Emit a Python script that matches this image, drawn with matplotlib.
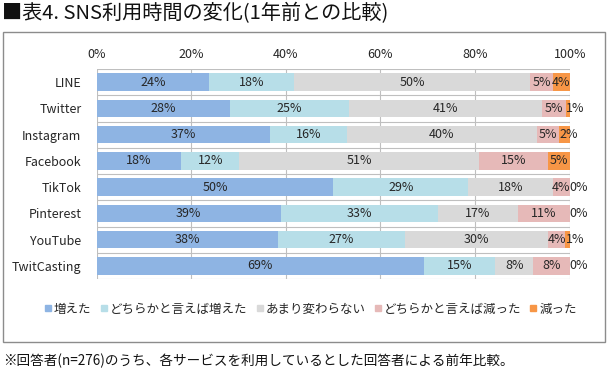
import matplotlib
matplotlib.use("Agg")
import matplotlib.pyplot as plt
from matplotlib.patches import Rectangle
from matplotlib.lines import Line2D
import numpy as np

plt.rcParams['font.family'] = ['Noto Sans CJK JP', 'DejaVu Sans']

title = "■表4. SNS利用時間の変化(1年前との比較)"
footnote = "※回答者(n=276)のうち、各サービスを利用しているとした回答者による前年比較。"

categories = ["LINE", "Twitter", "Instagram", "Facebook", "TikTok",
              "Pinterest", "YouTube", "TwitCasting"]
series_names = ["増えた", "どちらかと言えば増えた", "あまり変わらない",
                "どちらかと言えば減った", "減った"]
increased      = [23.7, 28.1, 36.6, 17.9, 50.0, 38.9, 38.3, 69.2]
some_increased = [18.0, 25.3, 16.4, 12.2, 28.6, 33.3, 26.9, 15.1]
unchanged      = [50.0, 40.7, 40.0, 50.7, 17.8, 16.8, 30.3, 8.0]
some_decreased = [4.7, 5.2, 4.8, 14.6, 3.6, 11.0, 3.6, 7.7]
decreased      = [3.6, 0.7, 2.2, 4.6, 0.0, 0.0, 0.9, 0.0]
tick_values = [0, 20, 40, 60, 80, 100]
tick_labels = ["0%", "20%", "40%", "60%", "80%", "100%"]

colors = ["#8EB4E3", "#B7DEE8", "#D9D9D9", "#E6B9B8", "#F79646"]
series = [increased, some_increased, unchanged, some_decreased, decreased]

W, H = 610, 375
fig = plt.figure(figsize=(W / 100, H / 100), dpi=100)

# outer chart box
fig.patches.append(Rectangle((3 / W, 1 - 342 / H), 602 / W, 310 / H,
                             transform=fig.transFigure, fill=False,
                             edgecolor="#8C8C8C", linewidth=1.0))

ax = fig.add_axes([96.7 / W, 1 - 279 / H, 473 / W, 210 / H])
n = len(categories)
y = np.arange(n)
left = np.zeros(n)
for vals, col in zip(series, colors):
    vals = np.array(vals)
    ax.barh(y, vals, left=left, height=0.675, color=col, zorder=2)
    for yi, (l, v) in enumerate(zip(left, vals)):
        if v < 2.5:
            ax.text(l, yi, f"{round(v)}%", ha="left", va="center",
                    fontsize=9, color="#262626", zorder=3)
        else:
            ax.text(l + v / 2, yi, f"{round(v)}%", ha="center", va="center",
                    fontsize=9, color="#262626", zorder=3)
    left = left + vals

ax.set_xlim(0, 100)
ax.set_ylim(n - 0.5, -0.5)
ax.set_yticks(y)
ax.set_yticklabels(categories, fontsize=9, color="#262626")
ax.xaxis.tick_top()
ax.set_xticks(tick_values)
ax.set_xticklabels(tick_labels, fontsize=9, color="#262626")
ax.tick_params(length=0, pad=6)
ax.tick_params(axis="y", pad=11)
ax.set_yticks(np.arange(n + 1) - 0.5, minor=True)
ax.tick_params(which="minor", length=0)
ax.grid(True, axis="x", which="major", color="#BFBFBF", linewidth=0.8, zorder=0)
ax.grid(True, axis="y", which="minor", color="#BFBFBF", linewidth=0.8, zorder=0)
ax.grid(False, axis="y", which="major")
for s in ax.spines.values():
    s.set_visible(False)
ax.set_axisbelow(True)

handles = [Line2D([], [], marker="s", linestyle="none", markersize=5,
                  markerfacecolor=c, markeredgecolor=c) for c in colors]
fig.legend(handles, series_names, loc="center", ncol=5,
           bbox_to_anchor=(310 / W, 1 - 309 / H), frameon=False,
           fontsize=9, handletextpad=0.05, columnspacing=0.6,
           handlelength=0.8, labelcolor="#262626")

fig.text(2 / W, 1 - 14 / H, title, fontsize=14.5, va="center", ha="left",
         color="#111111")
fig.text(3 / W, 1 - 361 / H, footnote, fontsize=9.8, va="center", ha="left",
         color="#111111")

fig.savefig("out.png", dpi=100)
